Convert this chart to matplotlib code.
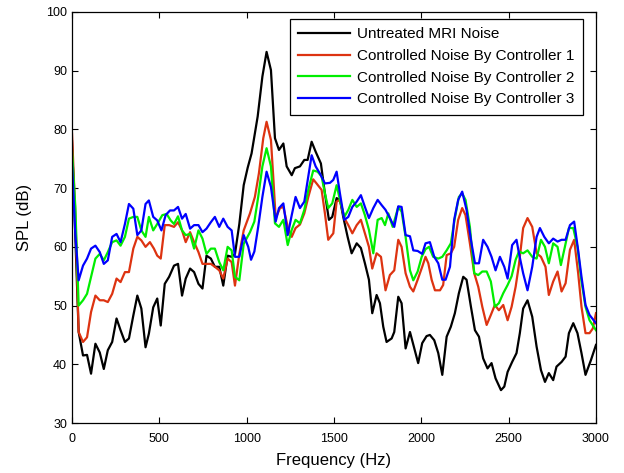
import numpy as np
import matplotlib
matplotlib.use("Agg")
import matplotlib.pyplot as plt

plt.rcParams['font.family'] = ['Liberation Sans', 'DejaVu Sans']

# Untreated MRI noise (freq Hz, SPL dB)
freq_untreated = [0, 19, 38, 63, 86, 109, 134, 159, 182, 205, 230, 255, 278, 303, 326, 351, 374, 397,
                  421, 440, 465, 488, 508, 531, 556, 584, 607, 630, 651, 676, 699, 724, 747, 770, 795,
                  818, 843, 866, 891, 914, 933, 958, 983, 1006, 1028, 1063, 1090, 1114, 1139, 1162,
                  1185, 1210, 1229, 1258, 1276, 1305, 1330, 1349, 1372, 1395, 1425, 1448, 1471, 1490,
                  1515, 1534, 1553, 1578, 1601, 1630, 1654, 1677, 1700, 1719, 1744, 1763, 1782, 1801,
                  1830, 1845, 1868, 1887, 1910, 1935, 1960, 1982, 2005, 2030, 2049, 2074, 2097, 2120,
                  2145, 2169, 2192, 2215, 2240, 2259, 2284, 2307, 2330, 2354, 2379, 2402, 2425, 2456,
                  2475, 2494, 2520, 2545, 2564, 2583, 2608, 2635, 2660, 2685, 2708, 2730, 2755, 2774,
                  2803, 2826, 2845, 2870, 2894, 2917, 2940, 2971, 3000]
spl_untreated = [78, 62, 45.5, 41.5, 41.6, 38.4, 43.5, 42, 39.2, 42.4, 43.8, 47.8, 45.8, 43.8, 44.4,
                 48.3, 51.7, 49.5, 42.9, 45.2, 49.7, 51.2, 46.6, 53.7, 54.9, 56.8, 57.1, 51.7, 54.6,
                 56.3, 55.7, 53.7, 52.9, 58.5, 58, 56.6, 56.6, 53.4, 58.5, 58.3, 58.8, 63.9, 70.5,
                 73.5, 75.9, 82.2, 89, 93.2, 90.1, 78.5, 76.5, 77.6, 73.7, 72.2, 73.4, 73.7, 74.8,
                 74.8, 77.9, 76.2, 74.2, 69.1, 64.6, 65.1, 68.3, 68, 65.1, 61.7, 58.9, 60.6, 59.8,
                 57.2, 54.4, 48.7, 51.8, 50.4, 46.4, 43.8, 44.4, 45.5, 51.5, 50.4, 42.7, 45.5, 42.7,
                 40.2, 43.6, 44.8, 45, 44.1, 41.9, 38.2, 44.7, 46.4, 48.7, 52.1, 54.9, 54.4, 49.8,
                 45.8, 44.7, 41, 39.3, 40.2, 37.6, 35.6, 36.2, 38.7, 40.4, 41.9, 45.3, 49.5, 50.9,
                 48.1, 43, 39, 37, 38.5, 37.3, 39.6, 40.4, 41.3, 45.3, 47, 45.3, 41.9, 38.2, 40.7, 43.3]

# Controller 1
freq_c1 = [0, 19, 38, 63, 86, 109, 134, 159, 182, 205, 230, 255, 278, 303, 326, 351, 374, 397, 421,
           446, 469, 488, 508, 531, 556, 584, 607, 630, 651, 676, 699, 724, 747, 770, 795, 818, 843,
           866, 891, 914, 933, 958, 983, 1019, 1047, 1070, 1095, 1114, 1139, 1152, 1166, 1191, 1210,
           1235, 1258, 1280, 1305, 1330, 1353, 1381, 1400, 1429, 1448, 1467, 1496, 1515, 1534, 1559,
           1582, 1605, 1630, 1654, 1677, 1700, 1719, 1744, 1769, 1795, 1820, 1845, 1868, 1887, 1910,
           1935, 1954, 1979, 2005, 2024, 2040, 2059, 2078, 2107, 2125, 2145, 2169, 2188, 2211, 2234,
           2253, 2278, 2303, 2326, 2349, 2374, 2398, 2421, 2444, 2469, 2494, 2517, 2540, 2559, 2583,
           2608, 2635, 2660, 2685, 2711, 2730, 2755, 2780, 2803, 2826, 2851, 2875, 2898, 2917, 2940,
           2963, 2982, 3000]
spl_c1 = [79.3, 65.6, 45.5, 43.8, 44.6, 48.9, 51.7, 50.9, 50.9, 50.6, 52, 54.6, 54, 55.7, 55.7, 59.7,
          61.7, 61.1, 60, 60.8, 59.7, 58.5, 58, 63.7, 63.7, 63.4, 64.2, 62.8, 60.8, 62.5, 60.8, 59.1,
          57.1, 57.1, 57.1, 56.6, 56, 54.6, 58, 57.4, 53.4, 58.8, 62.8, 65.7, 68.5, 72.5, 78.5, 81.3,
          78.2, 72, 64.9, 66.6, 66.8, 63.4, 61.7, 63.2, 63.8, 65.7, 68.5, 71.5, 70.8, 69.7, 65.7,
          61.2, 62.3, 67.7, 68, 64.9, 63.7, 62.3, 63.7, 64.6, 62.3, 60, 56.3, 58.9, 58.3, 52.6, 55.2,
          56, 61.2, 60, 55.5, 53.2, 52.4, 54.4, 56.6, 58.3, 57.2, 54.4, 52.6, 52.6, 53.5, 58.6, 58.9,
          60, 64.6, 66.6, 65.4, 60.6, 55.5, 53.2, 49.8, 46.7, 48.4, 50.1, 49.2, 50.1, 47.5, 49.8,
          53.2, 57, 63.2, 64.9, 63.4, 58.9, 58.3, 56.6, 51.8, 54.1, 55.8, 52.4, 53.8, 59.5, 61.2,
          55.5, 49.8, 45.3, 45.3, 46.1, 48.7]

# Controller 2
freq_c2 = [0, 19, 38, 63, 86, 109, 134, 159, 182, 205, 230, 255, 278, 303, 326, 351, 374, 397, 421,
           440, 465, 488, 517, 542, 565, 584, 607, 630, 651, 676, 699, 724, 747, 770, 795, 818, 843,
           866, 891, 914, 933, 958, 983, 1019, 1044, 1066, 1090, 1114, 1139, 1162, 1185, 1210, 1235,
           1258, 1280, 1305, 1330, 1353, 1381, 1406, 1429, 1448, 1467, 1490, 1515, 1534, 1559, 1582,
           1605, 1630, 1654, 1677, 1700, 1725, 1750, 1773, 1792, 1811, 1836, 1868, 1887, 1910, 1935,
           1954, 1979, 2002, 2024, 2044, 2068, 2097, 2120, 2145, 2169, 2192, 2215, 2234, 2253, 2278,
           2303, 2326, 2349, 2374, 2398, 2421, 2444, 2469, 2494, 2517, 2540, 2559, 2583, 2608, 2635,
           2660, 2685, 2708, 2730, 2755, 2780, 2799, 2822, 2845, 2870, 2894, 2917, 2940, 2963, 3000]
spl_c2 = [76.4, 66.8, 50, 50.9, 52, 54.9, 58, 58.8, 57.7, 59.1, 60.8, 61.1, 60.2, 61.7, 64.8, 65.1,
          65.1, 62.8, 61.7, 65.1, 62.8, 63.9, 65.4, 65.6, 64.5, 63.9, 65.2, 62.8, 62, 62.2, 59.7,
          62.8, 61.4, 58.8, 59.7, 59.7, 57.4, 56, 60, 59.4, 54.9, 54.3, 60.5, 62.5, 64.3, 68.5, 73.7,
          76.8, 73.7, 64, 63.4, 64.6, 60.3, 62.9, 64.6, 64, 66.3, 69.7, 73, 72.8, 72, 69.1, 66.6,
          67.4, 70.5, 68, 65.1, 66.3, 68, 66.8, 67.4, 65.4, 62.9, 58.9, 64.6, 64.9, 63.7, 65.7, 63.4,
          66.8, 66, 61.7, 56, 54.3, 55.8, 58.3, 59.6, 60, 58.3, 58, 58.3, 59.4, 60.6, 64.9, 68.5,
          69.1, 68, 63.4, 55.5, 55.2, 55.8, 55.8, 54.1, 49.8, 50.4, 52.1, 53.5, 55, 57.8, 59.2, 58.9,
          59.4, 58.3, 58, 61.2, 60, 57.2, 60.6, 60, 56.9, 60, 63.2, 63.2, 60, 54.1, 49.8, 47.5, 45.8]

# Controller 3
freq_c3 = [0, 19, 38, 63, 86, 109, 134, 159, 182, 205, 230, 255, 278, 303, 326, 351, 374, 397, 421,
           440, 465, 488, 512, 536, 561, 584, 607, 630, 651, 676, 699, 724, 747, 770, 795, 818, 843,
           866, 891, 914, 933, 958, 983, 1009, 1025, 1044, 1066, 1090, 1114, 1139, 1166, 1185, 1210,
           1235, 1258, 1280, 1305, 1330, 1353, 1372, 1395, 1419, 1448, 1477, 1496, 1515, 1534, 1559,
           1582, 1605, 1630, 1654, 1677, 1700, 1725, 1750, 1773, 1795, 1820, 1845, 1868, 1887, 1910,
           1935, 1954, 1979, 2005, 2024, 2049, 2074, 2097, 2120, 2139, 2164, 2188, 2211, 2234, 2259,
           2284, 2307, 2330, 2354, 2379, 2402, 2425, 2450, 2475, 2494, 2520, 2545, 2559, 2583, 2608,
           2635, 2660, 2679, 2704, 2730, 2755, 2780, 2803, 2826, 2851, 2875, 2898, 2917, 2940, 2963,
           3000]
spl_c3 = [74.2, 62.2, 54.3, 56.8, 58, 59.7, 60.2, 59.1, 57.1, 57.7, 61.7, 62.2, 60.8, 63.9, 67.3,
          66.5, 62, 62.8, 67.3, 67.9, 65.1, 64.5, 62.8, 65.4, 66.2, 66.2, 66.8, 64.8, 65.6, 63.1,
          63.7, 63.7, 62.5, 63.1, 64.2, 65.1, 63.4, 64.8, 63.4, 62.8, 58.3, 58.3, 62, 60, 57.8, 59.2,
          63.4, 68.5, 72.8, 70.2, 64.3, 66.6, 67.4, 62, 65.4, 68.5, 66.6, 67.7, 72, 75.6, 73.7, 72.5,
          70.8, 70.9, 71.4, 72.8, 69.1, 64.6, 65.1, 66.8, 67.7, 68.8, 66.8, 64.9, 66.6, 68, 67.1,
          66.3, 64.9, 63.4, 66.9, 66.8, 62, 61.8, 59.4, 59.3, 58.8, 60.6, 60.8, 58.3, 57.2, 54.4,
          54.4, 56.6, 64.6, 68, 69.4, 66.3, 61.2, 57.2, 57.2, 61.2, 60, 58.3, 56, 58.3, 56.6, 54.6,
          60.3, 61.2, 58.9, 55.5, 52.6, 56.6, 61.7, 63.2, 61.7, 60.6, 61.4, 60.9, 61.2, 61.2, 63.7,
          64.3, 59.4, 54.9, 50.1, 48.4, 47]

labels = ['Untreated MRI Noise', 'Controlled Noise By Controller 1',
          'Controlled Noise By Controller 2', 'Controlled Noise By Controller 3']
colors = ['black', '#dd3311', '#00ee00', '#0000ff']

fig = plt.figure(figsize=(6.24, 4.73), dpi=100)
ax = fig.add_axes([0.1154, 0.1057, 0.8397, 0.869])

series = [(freq_untreated, spl_untreated), (freq_c1, spl_c1), (freq_c2, spl_c2), (freq_c3, spl_c3)]
for (f, s), lab, c in zip(series, labels, colors):
    ax.plot(f, s, color=c, lw=1.6, label=lab)

ax.set_xlim(0, 3000)
ax.set_ylim(30, 100)
ax.set_xticks(np.arange(0, 3001, 500))
ax.set_yticks(np.arange(30, 101, 10))
ax.tick_params(direction='in', top=True, right=True, labelsize=9, length=4, width=0.8)
ax.tick_params(axis='x', pad=7)
for sp in ax.spines.values():
    sp.set_linewidth(0.9)
ax.set_xlabel('Frequency (Hz)', fontsize=12, labelpad=6)
ax.set_ylabel('SPL (dB)', fontsize=12, labelpad=10)

leg = ax.legend(loc='upper right', bbox_to_anchor=(0.975, 0.983), borderaxespad=0,
                fontsize=11, handlelength=3.4, handletextpad=0.45, labelspacing=0.5,
                fancybox=False, edgecolor='black', framealpha=1, borderpad=0.55)
leg.get_frame().set_linewidth(0.9)

fig.savefig('out.png', dpi=100)
